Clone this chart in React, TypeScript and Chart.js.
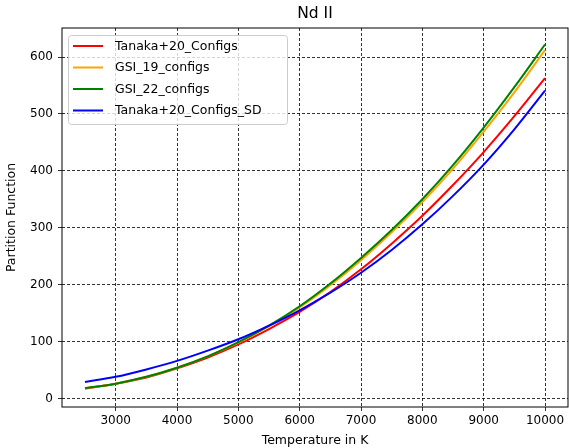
import React, { useEffect, useRef } from "react";
import { Chart, registerables } from "chart.js";

Chart.register(...registerables);

const chartTitle = "Nd II";
const xAxisTitle = "Temperature in K";
const yAxisTitle = "Partition Function";

const temperatures = [2500, 3000, 3500, 4000, 4500, 5000, 5500, 6000, 6500, 7000, 7500, 8000, 8500, 9000, 9500, 10000];
const tanaka20Configs = [17.5, 26, 37, 53, 72, 95, 122, 152, 187, 227, 272, 321, 375, 433, 496, 563];
const gsi19Configs = [18, 26, 38, 54, 74, 98, 127, 160, 199, 243, 292, 345, 404, 469, 538, 612];
const gsi22Configs = [18, 26, 38, 54, 74, 99, 128, 162, 202, 247, 296, 350, 410, 476, 547, 622];
const tanaka20ConfigsSD = [29, 38, 51, 66, 84, 104, 128, 155, 186, 221, 261, 306, 356, 411, 473, 541];

const seriesLabels = ["Tanaka+20_Configs", "GSI_19_configs", "GSI_22_configs", "Tanaka+20_Configs_SD"];
const seriesColors = ["#ff0000", "#ffa500", "#008000", "#0000ff"];
const seriesValues = [tanaka20Configs, gsi19Configs, gsi22Configs, tanaka20ConfigsSD];

const xTicks = [3000, 4000, 5000, 6000, 7000, 8000, 9000, 10000];
const yTicks = [0, 100, 200, 300, 400, 500, 600];

const FONT = "'DejaVu Sans', sans-serif";

const decorPlugin = {
  id: "decor",
  afterDraw(chart: any) {
    const { ctx, chartArea: a } = chart;
    ctx.save();
    // frame
    ctx.strokeStyle = "#000";
    ctx.lineWidth = 1;
    ctx.strokeRect(a.left, a.top, a.right - a.left, a.bottom - a.top);
    // title
    ctx.fillStyle = "#000";
    ctx.font = `15.5px ${FONT}`;
    ctx.textAlign = "center";
    ctx.textBaseline = "middle";
    ctx.fillText(chartTitle, (a.left + a.right) / 2, 14);
    // legend
    const lx = a.left + 6;
    const ly = a.top + 7;
    const lw = 219;
    const lh = 89;
    ctx.beginPath();
    (ctx as any).roundRect(lx + 0.5, ly + 0.5, lw, lh, 3);
    ctx.fillStyle = "rgba(255,255,255,0.8)";
    ctx.fill();
    ctx.strokeStyle = "#cccccc";
    ctx.lineWidth = 1;
    ctx.stroke();
    ctx.font = `12.5px ${FONT}`;
    ctx.textAlign = "left";
    ctx.textBaseline = "middle";
    seriesLabels.forEach((label, i) => {
      const y = ly + 11 + i * 21.5;
      ctx.beginPath();
      ctx.moveTo(lx + 5, y);
      ctx.lineTo(lx + 35, y);
      ctx.strokeStyle = seriesColors[i];
      ctx.lineWidth = 2;
      ctx.stroke();
      ctx.fillStyle = "#000";
      ctx.fillText(label, lx + 47, y + 0.5);
    });
    ctx.restore();
  },
};

export default function App() {
  const ref = useRef<HTMLCanvasElement | null>(null);
  useEffect(() => {
    document.body.style.margin = "0";
    const canvas = ref.current;
    if (!canvas) return;
    const gridCommon = {
      color: "#000",
      lineWidth: 0.8,
      drawTicks: true,
      tickLength: 4,
      tickColor: "#000",
      tickWidth: 0.8,
      tickBorderDash: [1, 0],
    };
    const borderCommon = { display: false, dash: [3, 2] };
    const chart = new Chart(canvas, {
      type: "line",
      data: {
        datasets: seriesLabels.map((label, i) => ({
          label,
          data: temperatures.map((t, j) => ({ x: t, y: seriesValues[i][j] })),
          borderColor: seriesColors[i],
          backgroundColor: seriesColors[i],
          borderWidth: 2,
          pointRadius: 0,
          fill: false,
          cubicInterpolationMode: "monotone" as const,
          order: seriesLabels.length - i,
        })),
      },
      options: {
        responsive: false,
        animation: false,
        layout: { padding: { left: 0, top: 28, right: 1, bottom: 0 } },
        plugins: {
          legend: { display: false },
          title: { display: false },
          tooltip: { enabled: false },
        },
        scales: {
          x: {
            type: "linear",
            min: 2125,
            max: 10375,
            afterBuildTicks: (s: any) => {
              s.ticks = xTicks.map((v) => ({ value: v }));
            },
            afterFit: (s: any) => {
              s.height = 41;
            },
            grid: gridCommon as any,
            border: borderCommon as any,
            ticks: {
              color: "#000",
              font: { family: FONT, size: 12 },
              padding: 3,
              maxRotation: 0,
              autoSkip: false,
              callback: (v: any) => String(v),
            },
            title: {
              display: true,
              text: xAxisTitle,
              color: "#000",
              font: { family: FONT, size: 12.5 },
              padding: { top: 0, bottom: 0 },
            },
          },
          y: {
            type: "linear",
            min: -15,
            max: 651,
            afterBuildTicks: (s: any) => {
              s.ticks = yTicks.map((v) => ({ value: v }));
            },
            afterFit: (s: any) => {
              s.width = 62;
            },
            grid: gridCommon as any,
            border: borderCommon as any,
            ticks: {
              color: "#000",
              font: { family: FONT, size: 12 },
              padding: 5,
              autoSkip: false,
              callback: (v: any) => String(v),
            },
            title: {
              display: true,
              text: yAxisTitle,
              color: "#000",
              font: { family: FONT, size: 12.5 },
              padding: { top: 4, bottom: 0 },
            },
          },
        },
      },
      plugins: [decorPlugin],
    });
    return () => chart.destroy();
  }, []);
  return <canvas ref={ref} width={569} height={448} style={{ display: "block" }} />;
}
